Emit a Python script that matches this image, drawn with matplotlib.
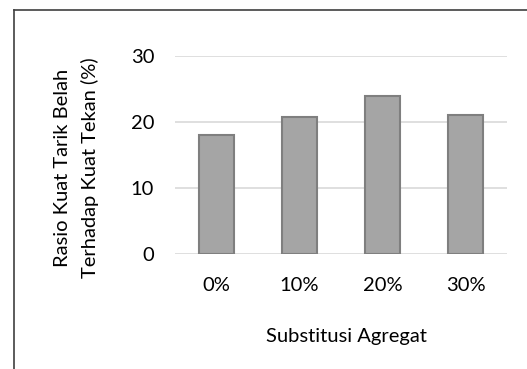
import matplotlib.pyplot as plt
from matplotlib.lines import Line2D

# substitution level vs split tensile / compressive strength ratio
labels = ['0%', '10%', '20%', '30%']
ratio = [18.1, 20.7, 24.0, 21.0]
yticks = [0, 10, 20, 30]

plt.rcParams['font.family'] = ['Lato', 'DejaVu Sans']
fs = 14.5

fig = plt.figure(figsize=(5.27, 3.69), dpi=100)
ax = fig.add_axes([0.332, 0.312, 0.63, 0.536])

x = range(len(labels))
ax.bar(x, ratio, width=0.42, color='#a5a5a5', edgecolor='#7f7f7f',
       linewidth=1.5, zorder=3)

ax.set_ylim(0, 30)
ax.set_xlim(-0.5, len(labels) - 0.5)
ax.set_yticks(yticks)
ax.set_xticks(list(x))
ax.set_xticklabels(labels)
ax.yaxis.grid(True, color='#d9d9d9', linewidth=1.2, zorder=0)
ax.tick_params(axis='both', length=0, labelsize=fs, colors='black')
ax.tick_params(axis='y', pad=15)
ax.tick_params(axis='x', pad=17)
for s in ax.spines.values():
    s.set_visible(False)

fig.text(0.658, 0.087, 'Substitusi Agregat', ha='center', va='center', fontsize=fs)
# two-line y title, one text per line
fig.text(0.119, 0.546, 'Rasio Kuat Tarik Belah',
         rotation=90, ha='center', va='center', fontsize=fs)
fig.text(0.171, 0.546, 'Terhadap Kuat Tekan (%)',
         rotation=90, ha='center', va='center', fontsize=fs)

# chart frame (only top and left edges fall inside the image)
fig.add_artist(Line2D([0.027, 0.027], [0, 0.973], color='#404040', linewidth=1.2,
                      transform=fig.transFigure))
fig.add_artist(Line2D([0.027, 1.0], [0.973, 0.973], color='#404040', linewidth=1.2,
                      transform=fig.transFigure))

fig.savefig('out.png', dpi=100)
